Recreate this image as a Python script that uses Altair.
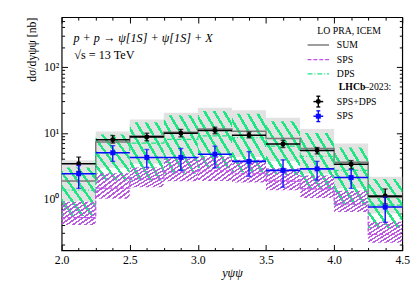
import altair as alt
import pandas as pd

# ---------------- data ----------------
bin_lo = [2.0, 2.25, 2.5, 2.75, 3.0, 3.25, 3.5, 3.75, 4.0, 4.25]
bin_hi = [2.25, 2.5, 2.75, 3.0, 3.25, 3.5, 3.75, 4.0, 4.25, 4.5]
bin_mid = [2.125, 2.375, 2.625, 2.875, 3.125, 3.375, 3.625, 3.875, 4.125, 4.375]

sum_hi = [3.85, 10.5, 16.0, 20.3, 24.0, 22.0, 17.0, 11.5, 6.9, 2.17]
sum_mid = [1.87, 7.3, 9.0, 10.2, 11.5, 10.6, 8.2, 5.8, 3.6, 1.06]
sum_lo = [0.93, 2.95, 3.4, 4.5, 4.8, 4.3, 3.7, 2.4, 1.45, 0.6]

sps_hi = [0.90, 2.45, 3.0, 4.1, 4.4, 3.9, 2.9, 2.25, 1.33, 0.45]
sps_mid = [0.52, 1.45, 2.0, 2.55, 2.65, 2.4, 1.85, 1.41, 0.84, 0.29]
sps_lo = [0.40, 1.00, 1.5, 1.85, 1.87, 1.77, 1.35, 1.03, 0.63, 0.215]

dps_hi = [3.0, 9.5, 14.5, 18.5, 21.5, 19.5, 15.0, 10.0, 6.0, 2.0]
dps_mid = [1.35, 5.0, 7.0, 8.0, 9.0, 8.5, 6.3, 4.4, 2.7, 0.8]
dps_lo = [0.55, 1.9, 1.9, 2.4, 2.9, 2.5, 2.3, 1.4, 0.8, 0.36]

lhcb_tot = [3.4, 7.9, 8.7, 9.9, 10.9, 9.2, 6.8, 5.4, 3.35, 1.1]
lhcb_tot_lo = [2.6, 7.0, 7.6, 8.7, 9.7, 8.4, 6.0, 4.8, 2.85, 0.84]
lhcb_tot_hi = [4.3, 9.1, 9.9, 11.3, 12.2, 10.3, 7.7, 6.0, 3.8, 1.41]

lhcb_sps = [2.4, 5.0, 4.25, 4.25, 4.75, 3.7, 2.7, 2.85, 2.1, 0.75]
lhcb_sps_lo = [1.44, 3.7, 3.0, 2.7, 2.95, 2.2, 1.5, 1.93, 1.44, 0.44]
lhcb_sps_hi = [3.2, 6.4, 5.6, 5.8, 6.3, 5.2, 3.9, 3.7, 2.78, 1.06]

x_major = [2.0, 2.5, 3.0, 3.5, 4.0, 4.5]
x_minor = [2.125, 2.25, 2.375, 2.625, 2.75, 2.875, 3.125, 3.25, 3.375,
           3.625, 3.75, 3.875, 4.125, 4.25, 4.375]
y_major = [1, 10, 100]
y_minor = [0.2, 0.3, 0.4, 0.5, 0.6, 0.7, 0.8, 0.9,
           2, 3, 4, 5, 6, 7, 8, 9, 20, 30, 40, 50, 60, 70, 80, 90,
           200, 300, 400, 500]

df = pd.DataFrame(dict(
    lo=bin_lo, hi=bin_hi, mid=bin_mid,
    sum_hi=sum_hi, sum_mid=sum_mid, sum_lo=sum_lo,
    sps_hi=sps_hi, sps_mid=sps_mid, sps_lo=sps_lo,
    dps_hi=dps_hi, dps_mid=dps_mid, dps_lo=dps_lo,
    t=lhcb_tot, t_lo=lhcb_tot_lo, t_hi=lhcb_tot_hi,
    s=lhcb_sps, s_lo=lhcb_sps_lo, s_hi=lhcb_sps_hi,
))
step = pd.DataFrame(dict(
    edge=bin_lo + [bin_hi[-1]],
    sum=sum_mid + [sum_mid[-1]],
    sps=sps_mid + [sps_mid[-1]],
    dps=dps_mid + [dps_mid[-1]],
))
ann = pd.DataFrame({"a": [0]})

# ---------------- style ----------------
FONT = "Liberation Serif"
GRAY_BAND = "#e2e2e2"
GRAY_LINE = "#7a7a7a"
GREEN = "#1ee682"
PURPLE = "#b85ade"
PURPLE_LINE = "#c64ee8"
BLUE = "#0a0aff"

xs = alt.Scale(domain=[2.0, 4.5], nice=False, zero=False)
ys = alt.Scale(type="log", domain=[0.165, 570], nice=False)


def hatch(color, n, duty, x1, y1, x2, y2):
    clear = "rgba(255,255,255,0)"
    stops = []
    for i in range(n):
        a = i / n
        b = (i + duty) / n
        stops += [alt.GradientStop(color=clear, offset=a),
                  alt.GradientStop(color=color, offset=a),
                  alt.GradientStop(color=color, offset=b),
                  alt.GradientStop(color=clear, offset=b)]
    stops.append(alt.GradientStop(color=clear, offset=1))
    return alt.LinearGradient(gradient="linear", stops=stops, x1=x1, y1=y1, x2=x2, y2=y2)


def axis(orient, values, size, labels=False, **kw):
    return alt.Axis(orient=orient, values=values, tickSize=size, offset=-size,
                    domain=False, grid=False, labels=labels, ticks=True,
                    tickColor="black", tickWidth=1, labelFlush=False,
                    labelOverlap=False, **kw)


ax_b_major = axis("bottom", x_major, 6, labels=True, format=".1f",
                  labelFont=FONT, labelFontSize=12, labelColor="black",
                  labelPadding=4, title="yψψ", titleFont=FONT, titleFontSize=12.5,
                  titleFontStyle="italic", titleFontWeight="normal", titlePadding=2,
                  titleColor="black")
ax_b_minor = axis("bottom", x_minor, 3, title=None)
ax_t_major = axis("top", x_major, 6, title=None)
ax_t_minor = axis("top", x_minor, 3, title=None)
ax_l_major = axis("left", y_major, 6, labels=True,
                  labelExpr="datum.value == 1 ? '10⁰' : datum.value == 10 ? '10¹' : '10²'",
                  labelFont=FONT, labelFontSize=12, labelColor="black", labelPadding=3,
                  title="dσ/dyψψ [nb]", titleFont=FONT, titleFontSize=12,
                  titleFontWeight="normal", titleColor="black", titlePadding=5,
                  titleAnchor="end")
ax_l_minor = axis("left", y_minor, 3, title=None)
ax_r_major = axis("right", y_major, 6, title=None)
ax_r_minor = axis("right", y_minor, 3, title=None)

base = alt.Chart(df)

band_sum = base.mark_rect(fill=GRAY_BAND).encode(
    x=alt.X("lo:Q", scale=xs, axis=ax_b_major), x2="hi:Q",
    y=alt.Y("sum_lo:Q", scale=ys, axis=ax_l_major), y2="sum_hi:Q")
band_dps = base.mark_rect(fill=hatch(GREEN, 7, 0.3, 0, 1, 1, 0)).encode(
    x=alt.X("lo:Q", scale=xs, axis=ax_b_minor), x2="hi:Q",
    y=alt.Y("dps_lo:Q", scale=ys, axis=ax_l_minor), y2="dps_hi:Q")
band_sps = base.mark_rect(fill=hatch(PURPLE, 11, 0.45, 0, 0, 1, 1)).encode(
    x=alt.X("lo:Q", scale=xs, axis=ax_t_major), x2="hi:Q",
    y=alt.Y("sps_lo:Q", scale=ys, axis=ax_r_major), y2="sps_hi:Q")

sbase = alt.Chart(step)
line_sum = sbase.mark_line(interpolate="step-after", color=GRAY_LINE, strokeWidth=1.5).encode(
    x=alt.X("edge:Q", scale=xs, axis=ax_t_minor),
    y=alt.Y("sum:Q", scale=ys, axis=ax_r_minor))
line_dps = sbase.mark_line(interpolate="step-after", color=GREEN, strokeWidth=1.3,
                           strokeDash=[5, 2, 1, 2]).encode(
    x=alt.X("edge:Q", scale=xs, axis=None), y=alt.Y("dps:Q", scale=ys, axis=None))
line_sps = sbase.mark_line(interpolate="step-after", color=PURPLE_LINE, strokeWidth=1.3,
                           strokeDash=[4, 2]).encode(
    x=alt.X("edge:Q", scale=xs, axis=None), y=alt.Y("sps:Q", scale=ys, axis=None))


def data_layers(val, lo, hi, color, shape):
    X = alt.X("mid:Q", scale=xs, axis=None)
    layers = [
        base.mark_rule(color=color, strokeWidth=1.6).encode(
            x=alt.X("lo:Q", scale=xs, axis=None), x2="hi:Q",
            y=alt.Y(f"{val}:Q", scale=ys, axis=None)),
        base.mark_rule(color=color, strokeWidth=1.4).encode(
            x=X, y=alt.Y(f"{lo}:Q", scale=ys, axis=None), y2=f"{hi}:Q"),
        base.mark_tick(color=color, orient="horizontal", size=5, thickness=1.4).encode(
            x=X, y=alt.Y(f"{lo}:Q", scale=ys, axis=None)),
        base.mark_tick(color=color, orient="horizontal", size=5, thickness=1.4).encode(
            x=X, y=alt.Y(f"{hi}:Q", scale=ys, axis=None)),
        base.mark_point(shape=shape, filled=True, size=26, color=color, opacity=1).encode(
            x=X, y=alt.Y(f"{val}:Q", scale=ys, axis=None)),
    ]
    return layers


tot_layers = data_layers("t", "t_lo", "t_hi", "black", "circle")
sps_layers = data_layers("s", "s_lo", "s_hi", BLUE, "square")


# ---------------- annotations / legend ----------------
def txt(s, x, y, size=10, weight="normal", style="normal", align="left"):
    return alt.Chart(ann).mark_text(text=s, font=FONT, fontSize=size, fontWeight=weight,
                                    fontStyle=style, align=align, baseline="middle",
                                    color="black").encode(x=alt.value(x), y=alt.value(y))


def seg(x1, x2, y1, y2, color, width, dash=None):
    kw = dict(color=color, strokeWidth=width)
    if dash:
        kw["strokeDash"] = dash
    return alt.Chart(ann).mark_rule(**kw).encode(
        x=alt.value(x1), x2=alt.value(x2), y=alt.value(y1), y2=alt.value(y2))


def marker(cx, cy, color, shape):
    return [
        seg(cx - 5, cx + 5, cy, cy, color, 1.5),
        seg(cx, cx, cy - 5.5, cy + 5.5, color, 1.4),
        seg(cx - 2, cx + 2, cy - 5.5, cy - 5.5, color, 1.4),
        seg(cx - 2, cx + 2, cy + 5.5, cy + 5.5, color, 1.4),
        alt.Chart(ann).mark_point(shape=shape, filled=True, size=26, color=color, opacity=1)
        .encode(x=alt.value(cx), y=alt.value(cy)),
    ]


legend = [
    txt("LO PRA, ICEM", 262, 14),
    seg(252, 274, 28.5, 28.5, GRAY_LINE, 1.5), txt("SUM", 282, 28.5),
    seg(252, 274, 43.5, 43.5, PURPLE_LINE, 1.3, [4, 2]), txt("SPS", 282, 43.5),
    seg(252, 274, 58, 58, GREEN, 1.3, [5, 2, 1, 2]), txt("DPS", 282, 58),
    txt("LHCb", 284, 72, weight="bold"), txt("–2023:", 310, 72),
    txt("SPS+DPS", 282, 86.5),
    txt("SPS", 282, 101.5),
] + marker(263, 86.5, "black", "circle") + marker(263, 101.5, BLUE, "square")

notes = [
    txt("p + p → ψ[1S] + ψ[1S] + X", 12, 21, size=12.5, style="italic"),
    txt("√s  =  13 TeV", 13, 39, size=12.5),
]

chart = alt.layer(
    band_sum, band_dps, band_sps, line_sum, line_dps, line_sps,
    *tot_layers, *sps_layers, *legend, *notes
).resolve_axis(x="independent", y="independent").properties(
    width=349, height=239,
    autosize=alt.AutoSizeParams(type="none"),
    padding={"left": 55, "top": 6, "right": 10, "bottom": 30},
).configure_view(stroke="black", strokeWidth=1.2)

chart.save("out.html", embed_options={"renderer": "svg", "actions": False})
